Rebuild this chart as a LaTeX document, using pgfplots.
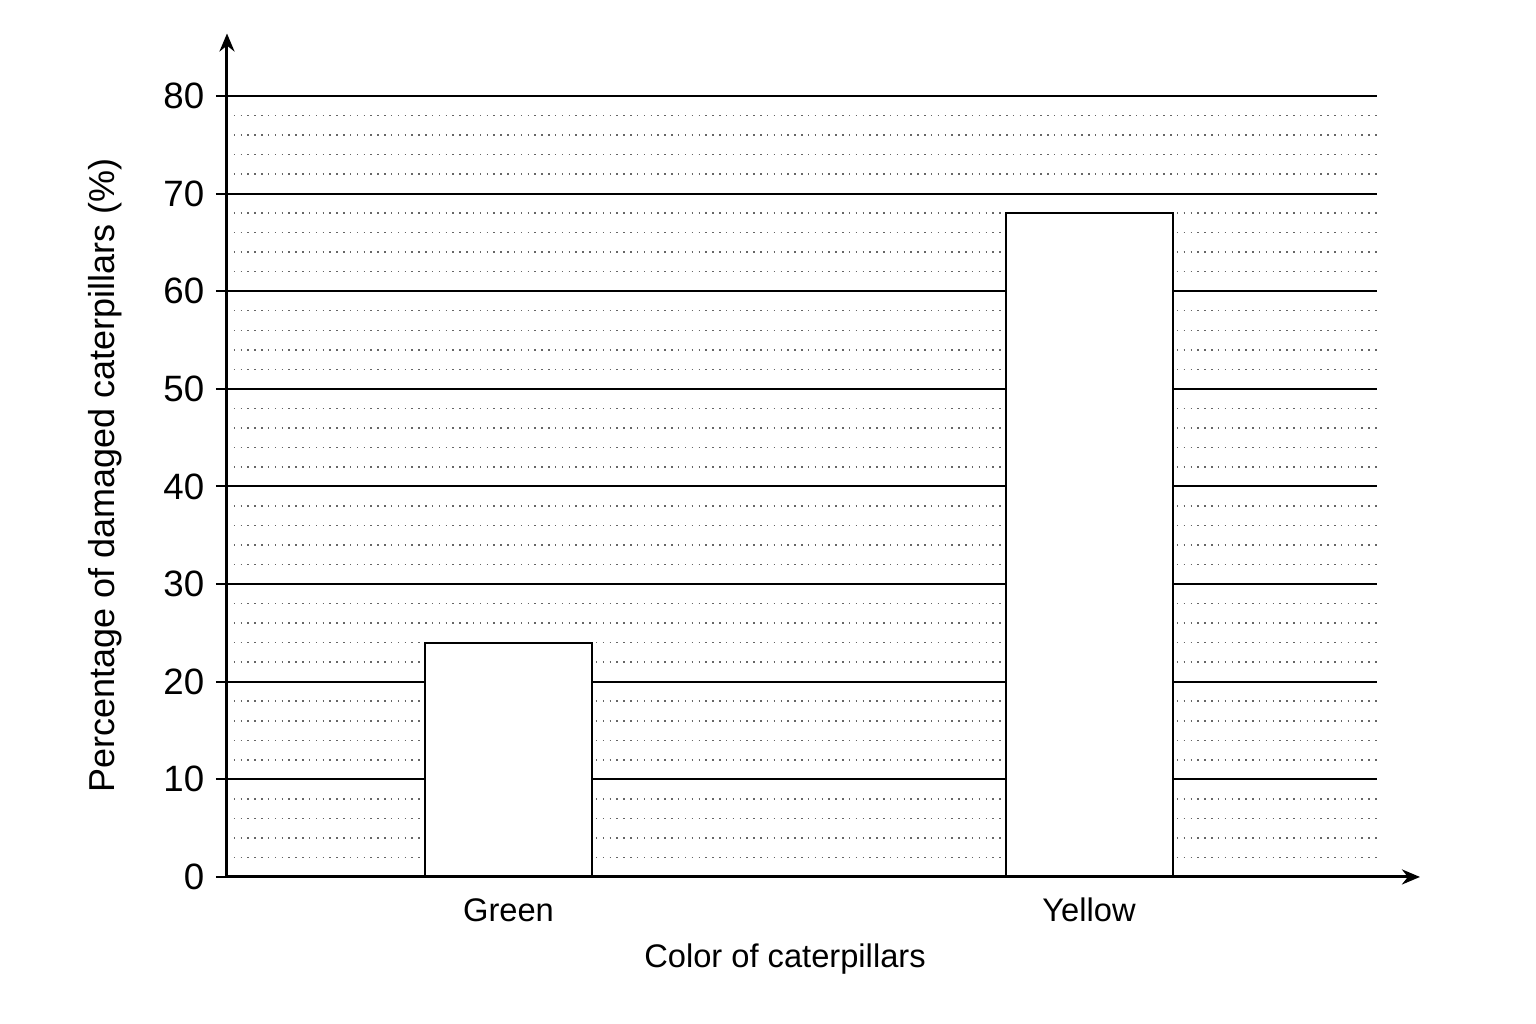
\documentclass[border=0pt]{standalone}
\usepackage{pgfplots}
\pgfplotsset{compat=1.18}
\usepackage{fontspec}
\setmainfont{Liberation Sans}
\usetikzlibrary{arrows.meta}

\begin{document}
\begin{tikzpicture}
  % x data is in reference pixels, 1px = 0.3pt
  \begin{axis}[
      x=0.3pt, y=2.92875pt,
      xmin=227, xmax=1377,
      ymin=0, ymax=80,
      clip=false,
      axis lines=left,
      axis line style={draw=none},
      /pgf/number format/assume math mode=true,
      ytick={0,10,...,80},
      minor y tick num=4,
      ymajorgrids, yminorgrids,
      major grid style={black, line width=0.6pt},
      minor grid style={black!60, line width=0.45pt, dash pattern=on 0.45pt off 1.6pt},
      ytick style={black, line width=0.6pt},
      major tick length=3.3pt,
      minor tick length=0pt,
      tick align=outside,
      yticklabel style={font=\fontsize{11}{12}\selectfont},
      xtick={508.5,1089},
      xticklabels={Green,Yellow},
      xtick style={draw=none},
      xticklabel style={font=\fontsize{9.8}{12}\selectfont, anchor=base, yshift=-10.2pt},
      ylabel={Percentage of damaged caterpillars (\%)},
      ylabel style={at={(axis cs:105,41.1)}, anchor=center, rotate=0, font=\fontsize{10.8}{12}\selectfont},
      xlabel={Color of caterpillars},
      xlabel style={at={(axis cs:785,-8.4)}, anchor=center, font=\fontsize{9.8}{12}\selectfont},
    ]
    \addplot[ybar, bar width=167, fill=white, draw=black, line width=0.6pt]
      coordinates {(508.5,24) (1089,68)};
    \draw[line width=0.9pt, -{Stealth[length=5.4pt, width=4.5pt]}]
      (axis cs:227,0) -- (axis cs:1420,0);
    \draw[line width=0.9pt, -{Stealth[length=5.4pt, width=4.5pt]}]
      (axis cs:227,0) -- (axis cs:227,86.4);
    \path (axis cs:0,-15.06) rectangle (axis cs:1536,89.83);
  \end{axis}
\end{tikzpicture}
\end{document}
